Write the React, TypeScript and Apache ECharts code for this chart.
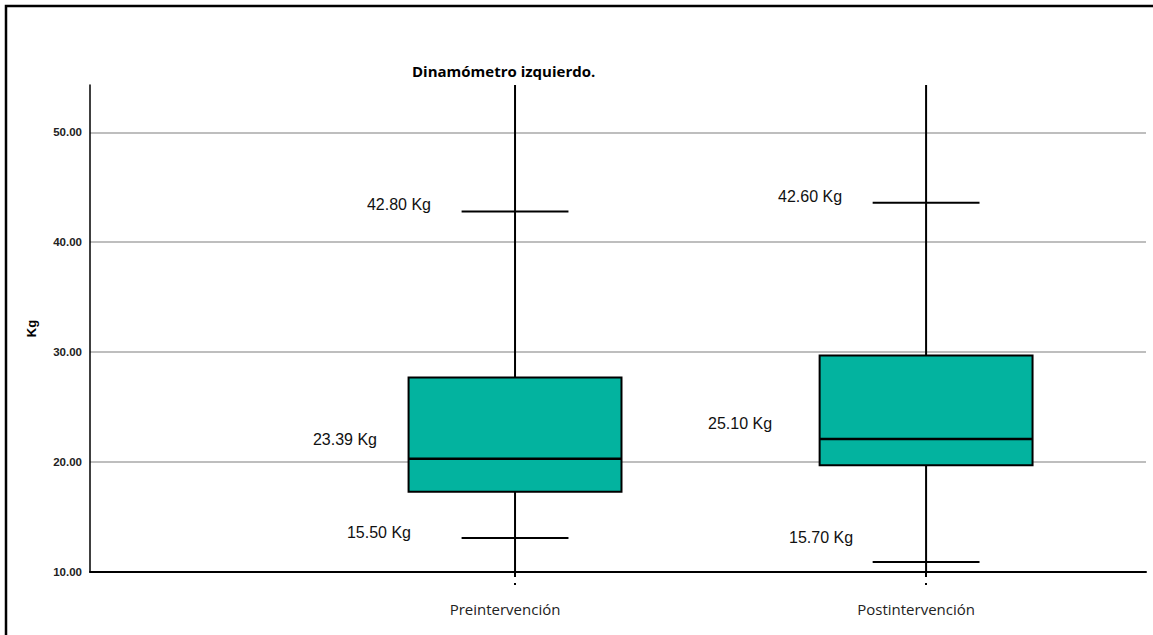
import React, { useEffect, useRef } from "react";
import * as echarts from "echarts";

// ---- data ----
const categories = ["Preintervención", "Postintervención"];
const minValues = [13.1, 10.9];
const q1Values = [17.3, 19.7];
const medianValues = [20.3, 22.1];
const q3Values = [27.7, 29.7];
const maxValues = [42.8, 43.6];
const topLabels = ["42.80 Kg", "42.60 Kg"];
const midLabels = ["23.39 Kg", "25.10 Kg"];
const lowLabels = ["15.50 Kg", "15.70 Kg"];
const Y_MIN = 10;
const Y_MAX = 54.3;
const Y_INTERVAL = 10;

// ---- layout (not data) ----
const X_MIN = -0.034;
const X_MAX = 2.535;
const BOX_WIDTH = 0.518; // in x-axis units
const CAP_WIDTH = 0.26;
// [dx from centre in px (right edge of text), y in data units]
const topLabelPos = [[-84, 43.45], [-84, 44.18]];
const midLabelPos = [[-138, 22.09], [-154, 23.55]];
const lowLabelPos = [[-104, 13.55], [-73, 13.18]];

const BOX_COLOR = "#03b39f";

export default function App() {
  const ref = useRef<HTMLDivElement>(null);

  useEffect(() => {
    document.body.style.margin = "0";
    if (!ref.current) return;
    const chart = echarts.init(ref.current, undefined, { renderer: "svg" });

    const boxData = categories.map((_, i) => [
      i + 1,
      minValues[i],
      q1Values[i],
      medianValues[i],
      q3Values[i],
      maxValues[i],
    ]);

    const labelFont = '16px "Liberation Sans", Arial, sans-serif';

    const option: any = {
      animation: false,
      backgroundColor: "#ffffff",
      title: {
        text: "Dinamómetro izquierdo.",
        left: 407,
        top: 58,
        textStyle: {
          fontFamily: "Open Sans",
          fontWeight: "bold",
          fontSize: 15,
          color: "#000",
        },
      },
      graphic: [
        {
          type: "rect",
          shape: { x: 6, y: 6, width: 1200, height: 700 },
          style: { fill: "none", stroke: "#000", lineWidth: 2.5 },
          silent: true,
          z: 100,
        },
      ],
      grid: {
        left: 90,
        right: 7,
        top: 85,
        bottom: 63,
        containLabel: false,
        outerBoundsMode: "none",
      },
      xAxis: {
        type: "value",
        min: X_MIN,
        max: X_MAX,
        splitLine: { show: false },
        axisLine: { show: true, onZero: false, lineStyle: { color: "#000", width: 2 } },
        axisTick: {
          show: true,
          customValues: [1, 2],
          length: 13,
          lineStyle: { color: "#000", width: 2, type: [5, 6, 2, 0] },
        },
        axisLabel: {
          customValues: [1, 2],
          formatter: (v: number) => categories[Math.round(v) - 1] ?? "",
          margin: 29,
          padding: [0, 20, 0, 0],
          fontFamily: "Open Sans",
          fontSize: 15,
          color: "#222",
        },
      },
      yAxis: {
        type: "value",
        min: Y_MIN,
        max: Y_MAX,
        interval: Y_INTERVAL,
        name: "Kg",
        nameLocation: "middle",
        nameGap: 52,
        nameTextStyle: {
          fontFamily: "Liberation Sans",
          fontWeight: "bold",
          fontSize: 13,
          color: "#000",
        },
        axisLine: { show: true, onZero: false, lineStyle: { color: "#000", width: 1.5 } },
        axisTick: { show: false },
        axisLabel: {
          showMaxLabel: false,
          formatter: (v: number) => v.toFixed(2),
          margin: 8,
          fontFamily: "Liberation Sans",
          fontWeight: "bold",
          fontSize: 11.5,
          color: "#222",
        },
        splitLine: {
          show: true,
          showMaxLine: false,
          lineStyle: { color: "#a8a8a8", width: 1.5 },
        },
      },
      series: [
        {
          type: "custom",
          data: boxData,
          encode: { x: 0, y: [1, 2, 3, 4, 5] },
          z: 5,
          renderItem: (params: any, api: any) => {
            const idx = params.dataIndex;
            const xv = api.value(0);
            const vMin = api.value(1);
            const vQ1 = api.value(2);
            const vMed = api.value(3);
            const vQ3 = api.value(4);
            const vMax = api.value(5);
            const cx = api.coord([xv, vMed])[0];
            const yTop = api.coord([xv, Y_MAX])[1];
            const yBottom = api.coord([xv, Y_MIN])[1];
            const yMin = api.coord([xv, vMin])[1];
            const yQ1 = api.coord([xv, vQ1])[1];
            const yMed = api.coord([xv, vMed])[1];
            const yQ3 = api.coord([xv, vQ3])[1];
            const yMax = api.coord([xv, vMax])[1];
            const halfBox = api.size([BOX_WIDTH, 0])[0] / 2;
            const halfCap = api.size([CAP_WIDTH, 0])[0] / 2;
            const lineStyle = { stroke: "#000", lineWidth: 2 };

            const text = (t: string, pos: number[]) => ({
              type: "text",
              style: {
                text: t,
                x: cx + pos[0],
                y: api.coord([xv, pos[1]])[1],
                align: "right",
                verticalAlign: "middle",
                font: labelFont,
                fill: "#111",
              },
            });

            return {
              type: "group",
              children: [
                {
                  type: "line",
                  shape: { x1: cx, y1: yTop, x2: cx, y2: yBottom },
                  style: lineStyle,
                },
                {
                  type: "line",
                  shape: { x1: cx - halfCap, y1: yMax, x2: cx + halfCap, y2: yMax },
                  style: lineStyle,
                },
                {
                  type: "line",
                  shape: { x1: cx - halfCap, y1: yMin, x2: cx + halfCap, y2: yMin },
                  style: lineStyle,
                },
                {
                  type: "rect",
                  shape: { x: cx - halfBox, y: yQ3, width: halfBox * 2, height: yQ1 - yQ3 },
                  style: { fill: BOX_COLOR, stroke: "#000", lineWidth: 2 },
                },
                {
                  type: "line",
                  shape: { x1: cx - halfBox, y1: yMed, x2: cx + halfBox, y2: yMed },
                  style: { stroke: "#000", lineWidth: 2.5 },
                },
                text(topLabels[idx], topLabelPos[idx]),
                text(midLabels[idx], midLabelPos[idx]),
                text(lowLabels[idx], lowLabelPos[idx]),
              ],
            };
          },
        },
      ],
    };

    chart.setOption(option);
    return () => chart.dispose();
  }, []);

  return <div ref={ref} style={{ width: 1153, height: 635 }} />;
}
